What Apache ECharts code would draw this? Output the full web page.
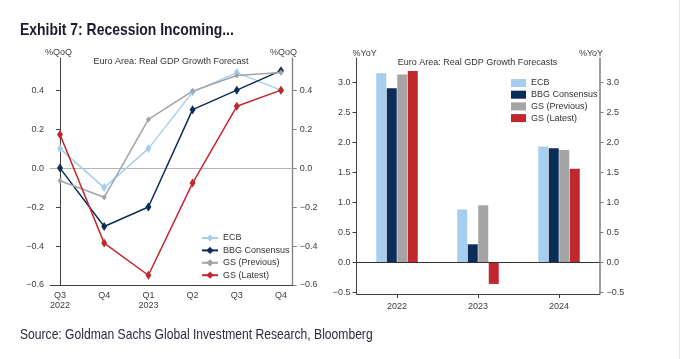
<!DOCTYPE html>
<html><head><meta charset="utf-8">
<script src="https://cdn.jsdelivr.net/npm/echarts@6/dist/echarts.min.js"></script>
<style>html,body{margin:0;padding:0;background:#fff}#c{width:681px;height:359px}</style>
</head><body><div id="c"></div>
<script>
// ---- data ----
const quarterLabels = ['Q3\n2022', 'Q4', 'Q1\n2023', 'Q2', 'Q3', 'Q4'];
const seriesNames = ['ECB', 'BBG Consensus', 'GS (Previous)', 'GS (Latest)'];
const qoqECB = [0.1, -0.1, 0.1, 0.39, 0.49, 0.4];
const qoqBBG = [0, -0.3, -0.2, 0.3, 0.4, 0.5];
const qoqGSPrev = [-0.065, -0.15, 0.25, 0.395, 0.475, 0.49];
const qoqGSLatest = [0.172, -0.385, -0.55, -0.077, 0.317, 0.4];
const years = ['2022', '2023', '2024'];
const yoyECB = [3.15, 0.88, 1.93];
const yoyBBG = [2.9, 0.3, 1.9];
const yoyGSPrev = [3.13, 0.95, 1.87];
const yoyGSLatest = [3.19, -0.36, 1.56];
const qoqTicks = [-0.6, -0.4, -0.2, 0, 0.2, 0.4];
const yoyTicks = [-0.5, 0, 0.5, 1, 1.5, 2, 2.5, 3];
const quarterIdx = [0, 1, 2, 3, 4, 5];

const colors = ['#a6cfef', '#0b2d58', '#a4a4a4', '#c1282e'];
const FONT = '"Liberation Sans", Arial, sans-serif';
const fmt = v => (Math.abs(v) < 1e-9 ? 0 : v).toFixed(1).replace('-', '\u2212');
const lab = {fontSize: 9, color: '#404040', fontFamily: FONT};

function yAxis(grid, pos, min, max, ticks, color, width) {
  return {
    type: 'value', gridIndex: grid, position: pos, min: min, max: max,
    axisLine: {show: true, lineStyle: {color: color, width: width}},
    axisTick: {show: true, length: 4, customValues: ticks, lineStyle: {color: color}},
    axisLabel: Object.assign({customValues: ticks, formatter: fmt, margin: pos === 'left' ? 6 : 7}, lab),
    splitLine: {show: false}
  };
}

const lineSeries = [qoqECB, qoqBBG, qoqGSPrev, qoqGSLatest].map((arr, k) => ({
  type: 'line', name: seriesNames[k], xAxisIndex: 0, yAxisIndex: 0,
  data: arr.map((v, i) => [quarterIdx[i], v]),
  symbol: 'diamond', symbolSize: k === 2 ? [5, 6] : [6, 9],
  lineStyle: {color: colors[k], width: 1.5},
  itemStyle: {color: colors[k]},
  z: 3 + k,
  markLine: k === 0 ? {silent: true, symbol: 'none', label: {show: false},
    lineStyle: {color: '#b5b5b5', width: 1, type: 'solid'}, data: [{yAxis: 0}], z: 2} : undefined
}));

const barSeries = [yoyECB, yoyBBG, yoyGSPrev, yoyGSLatest].map((arr, k) => ({
  type: 'bar', name: seriesNames[k], xAxisIndex: 1, yAxisIndex: 2,
  data: arr, barWidth: 10, barGap: '5%',
  itemStyle: {color: colors[k]},
  markLine: k === 0 ? {silent: true, symbol: 'none', label: {show: false},
    lineStyle: {color: '#333', width: 1, type: 'solid'}, data: [{yAxis: 0}]} : undefined
}));

const chart = echarts.init(document.getElementById('c'), null, {renderer: 'canvas'});
chart.setOption({
  animation: false,
  backgroundColor: '#fff',
  textStyle: {fontFamily: FONT},
  grid: [
    {left: 50, top: 58, width: 242.7, height: 227},
    {left: 356.5, top: 58, width: 243, height: 236}
  ],
  xAxis: [
    {type: 'value', gridIndex: 0, min: -0.226, max: 5.265,
     axisLine: {show: true, onZero: false, lineStyle: {color: '#404040'}},
     axisTick: {show: false},
     axisLabel: Object.assign({customValues: quarterIdx, formatter: v => quarterLabels[Math.round(v)], margin: 6, lineHeight: 10}, lab),
     splitLine: {show: false}},
    {type: 'category', gridIndex: 1, data: years,
     axisLine: {show: true, onZero: false, lineStyle: {color: '#404040'}},
     axisTick: {show: true, alignWithLabel: true, length: 4, lineStyle: {color: '#404040'}},
     axisLabel: Object.assign({margin: 8}, lab)}
  ],
  yAxis: [
    yAxis(0, 'left', -0.6, 0.565, qoqTicks, '#404040', 1),
    yAxis(0, 'right', -0.6, 0.565, qoqTicks, '#808080', 1.3),
    yAxis(1, 'left', -0.528, 3.405, yoyTicks, '#404040', 1),
    yAxis(1, 'right', -0.528, 3.405, yoyTicks, '#808080', 1.5)
  ],
  legend: [
    {orient: 'vertical', left: 201, top: 233, itemWidth: 16, itemHeight: 9, itemGap: 2.4, padding: 0,
     selectedMode: false, data: seriesNames,
     textStyle: {fontSize: 9, color: '#333', lineHeight: 10, fontFamily: FONT}},
    {orient: 'vertical', left: 511, top: 78, itemWidth: 15, itemHeight: 8, itemGap: 1.7, padding: 0,
     selectedMode: false, data: seriesNames.map(n => ({name: n, icon: 'rect'})),
     textStyle: {fontSize: 9, color: '#333', lineHeight: 10, fontFamily: FONT}}
  ],
  graphic: [
    {type: 'text', x: 20, y: 30, scaleX: 0.82, style: {text: 'Exhibit 7: Recession Incoming...', font: 'bold 17px ' + FONT, fill: '#1b1b2b', verticalAlign: 'middle'}},
    {type: 'text', x: 20, y: 335, scaleX: 0.835, style: {text: 'Source: Goldman Sachs Global Investment Research, Bloomberg', font: '14.5px ' + FONT, fill: '#2b2b3b', verticalAlign: 'middle'}},
    {type: 'text', x: 58.5, y: 53, style: {text: '%QoQ', font: '9px ' + FONT, fill: '#404040', align: 'center', verticalAlign: 'middle'}},
    {type: 'text', x: 283.5, y: 53, style: {text: '%QoQ', font: '9px ' + FONT, fill: '#404040', align: 'center', verticalAlign: 'middle'}},
    {type: 'text', x: 364.7, y: 54, style: {text: '%YoY', font: '9px ' + FONT, fill: '#404040', align: 'center', verticalAlign: 'middle'}},
    {type: 'text', x: 591, y: 54, style: {text: '%YoY', font: '9px ' + FONT, fill: '#404040', align: 'center', verticalAlign: 'middle'}},
    {type: 'text', x: 171, y: 62, style: {text: 'Euro Area: Real GDP Growth Forecast', font: '9px ' + FONT, fill: '#333', align: 'center', verticalAlign: 'middle'}},
    {type: 'text', x: 477.5, y: 62.5, style: {text: 'Euro Area: Real GDP Growth Forecasts', font: '9px ' + FONT, fill: '#333', align: 'center', verticalAlign: 'middle'}},
    {type: 'line', shape: {x1: 679.5, y1: 0, x2: 679.5, y2: 359}, style: {stroke: '#e6e6e6', lineWidth: 1}}
  ],
  series: lineSeries.concat(barSeries)
});
</script>
</body></html>
